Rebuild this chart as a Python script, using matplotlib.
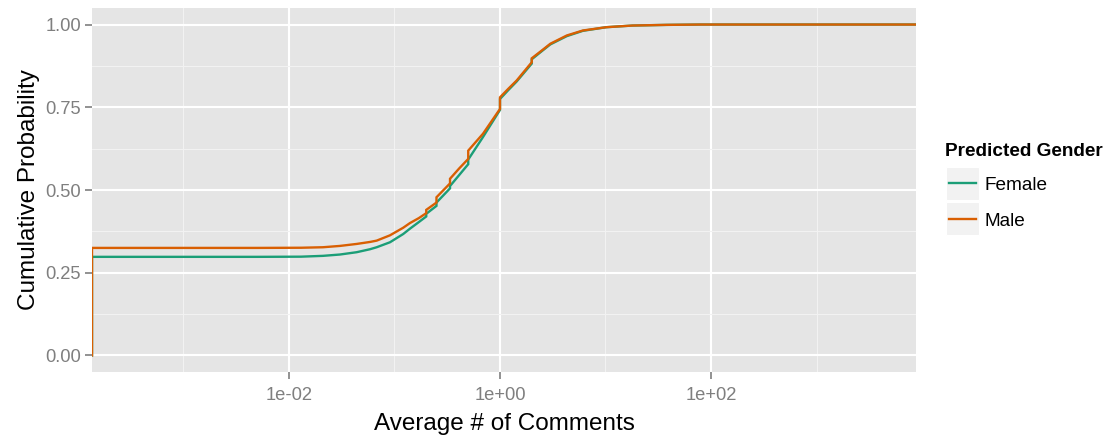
import numpy as np
import matplotlib
matplotlib.use('Agg')
import matplotlib.pyplot as plt
from matplotlib.lines import Line2D
from matplotlib.patches import Rectangle

plt.rcParams['font.family'] = ['Liberation Sans', 'DejaVu Sans']

# ECDF (0 = zero comments, drawn at panel edge like -Inf)
x_vals = [0, 0, 0.005, 0.013, 0.021, 0.0304, 0.0438, 0.0586, 0.0678, 0.0906,
          0.121, 0.14, 0.17, 0.2, 0.2, 0.25, 0.25, 0.336, 0.336, 0.41, 0.5, 0.5,
          0.69, 1, 1, 1.2, 1.44, 2, 2, 2.5, 3, 4.3, 6.1, 10.2, 18, 38, 80, np.inf]
female_y = [0, 0.298, 0.298, 0.2985, 0.301, 0.305, 0.312, 0.321, 0.327, 0.342,
            0.367, 0.383, 0.403, 0.42, 0.428, 0.452, 0.462, 0.505, 0.512, 0.545,
            0.578, 0.592, 0.66, 0.742, 0.775, 0.802, 0.828, 0.882, 0.895, 0.92,
            0.94, 0.965, 0.981, 0.992, 0.997, 0.999, 1.0, 1.0]
male_y = [0, 0.325, 0.325, 0.3255, 0.327, 0.331, 0.337, 0.343, 0.347, 0.363,
          0.386, 0.4, 0.415, 0.43, 0.44, 0.462, 0.478, 0.52, 0.534, 0.565,
          0.594, 0.619, 0.67, 0.745, 0.78, 0.806, 0.831, 0.886, 0.898, 0.922,
          0.942, 0.967, 0.982, 0.992, 0.997, 0.999, 1.0, 1.0]

groups = ['Female', 'Male']
colors = ['#1B9E77', '#D95F02']

xlim = (10**-3.867, 10**3.943)

fig = plt.figure(figsize=(11.13, 4.36), dpi=100)
ax = fig.add_axes([92/1113, 1-372/436, (916-92)/1113, (372-8)/436])
ax.set_facecolor('#E5E5E5')

xs = np.clip(np.array(x_vals, dtype=float), xlim[0], xlim[1])
for ys, c in zip([female_y, male_y], colors):
    ax.plot(xs, ys, color=c, lw=1.7, solid_joinstyle='miter')

ax.set_xscale('log')
ax.set_xlim(*xlim)
ax.set_ylim(-0.05, 1.05)
ax.set_xticks([1e-2, 1, 1e2])
ax.set_xticklabels(['1e-02', '1e+00', '1e+02'])
ax.set_xticks([1e-3, 1e-1, 1e1, 1e3], minor=True)
ax.set_xticklabels([], minor=True)
ax.set_yticks([0, 0.25, 0.5, 0.75, 1.0])
ax.set_yticklabels(['0.00', '0.25', '0.50', '0.75', '1.00'])
ax.set_yticks([0.125, 0.375, 0.625, 0.875], minor=True)

ax.grid(which='major', color='white', lw=1.5)
ax.grid(which='minor', color='#F2F2F2', lw=0.8)
ax.set_axisbelow(True)
for s in ax.spines.values():
    s.set_visible(False)
ax.tick_params(which='major', color='#7F7F7F', length=5, width=1.2,
               labelcolor='#7F7F7F', labelsize=13.2, pad=3)
ax.tick_params(axis='x', which='major', pad=6)
ax.tick_params(which='minor', length=0)

ax.set_xlabel('Average # of Comments', fontsize=17.5, labelpad=6)
ax.set_ylabel('Cumulative Probability', fontsize=17.5, labelpad=4)

# legend, ggplot style
fig.text(945/1113, 1-151/436, 'Predicted Gender', fontsize=13.7,
         fontweight='bold', va='center', ha='left')
for i, (g, c) in enumerate(zip(groups, colors)):
    top = 167 + i*35.5
    fig.add_artist(Rectangle((946/1113, 1-(top+33)/436), 33/1113, 33/436,
                             transform=fig.transFigure, facecolor='#F2F2F2',
                             edgecolor='white', lw=0.8))
    fig.add_artist(Line2D([949/1113, 976/1113], [1-(top+16.5)/436]*2,
                          transform=fig.transFigure, color=c, lw=1.7))
    fig.text(985/1113, 1-(top+18.5)/436, g, fontsize=13.7, va='center', ha='left')

fig.savefig('out.png', dpi=100)
